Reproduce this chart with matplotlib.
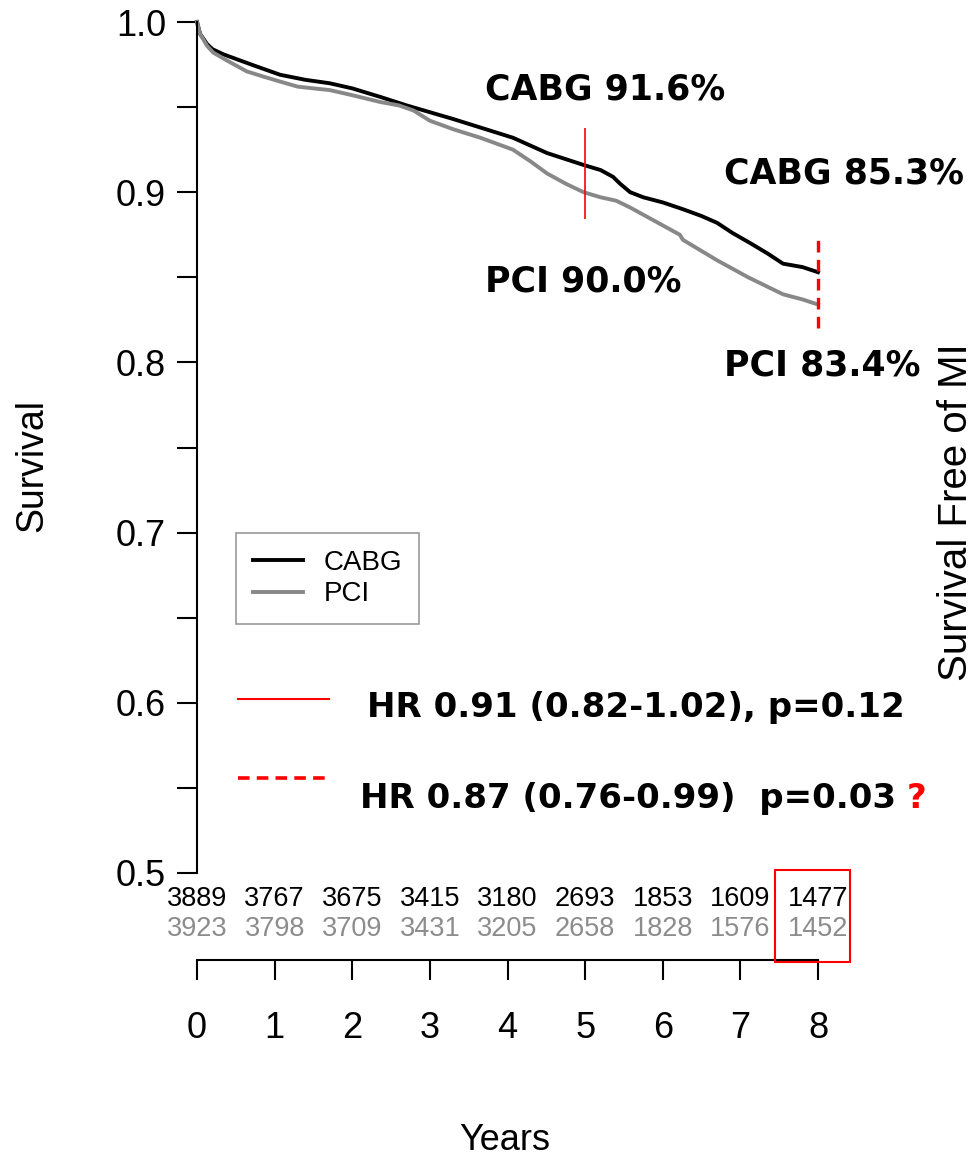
import numpy as np
import matplotlib.pyplot as plt
import matplotlib.lines as mlines
import matplotlib.patches as mpatches

plt.rcParams['font.family'] = ['Liberation Sans', 'DejaVu Sans']

# Kaplan-Meier curves
cabg_t = [0, 0.04, 0.13, 0.2, 0.34, 0.7, 1.07, 1.4, 1.71, 2.0, 2.36, 2.7, 3.0, 3.3, 3.65,
          4.07, 4.51, 4.98, 5.2, 5.36, 5.45, 5.58, 5.75, 6.0, 6.26, 6.5, 6.7, 6.9, 7.13,
          7.35, 7.55, 7.8, 8.0]
cabg_s = [1.0, 0.993, 0.987, 0.984, 0.981, 0.975, 0.969, 0.966, 0.964, 0.961, 0.956, 0.951,
          0.947, 0.943, 0.938, 0.932, 0.923, 0.916, 0.913, 0.909, 0.905, 0.900, 0.897, 0.894,
          0.890, 0.886, 0.882, 0.876, 0.870, 0.864, 0.858, 0.856, 0.853]
pci_t = [0, 0.04, 0.13, 0.21, 0.4, 0.64, 0.85, 1.07, 1.3, 1.5, 1.71, 2.0, 2.36, 2.6, 2.79,
         3.0, 3.3, 3.65, 4.07, 4.3, 4.51, 4.75, 4.98, 5.2, 5.4, 5.58, 5.9, 6.22, 6.26, 6.7,
         7.1, 7.55, 7.8, 8.0]
pci_s = [1.0, 0.993, 0.986, 0.982, 0.977, 0.971, 0.968, 0.965, 0.962, 0.961, 0.960, 0.957,
         0.953, 0.951, 0.948, 0.942, 0.937, 0.932, 0.925, 0.918, 0.911, 0.905, 0.900, 0.897,
         0.895, 0.891, 0.883, 0.875, 0.872, 0.860, 0.850, 0.840, 0.837, 0.834]

# numbers at risk
years = [0, 1, 2, 3, 4, 5, 6, 7, 8]
cabg_at_risk = [3889, 3767, 3675, 3415, 3180, 2693, 1853, 1609, 1477]
pci_at_risk = [3923, 3798, 3709, 3431, 3205, 2658, 1828, 1576, 1452]

# landmark lines
landmark_years = [5, 8]
landmark_lo = [0.884, 0.820]
landmark_hi = [0.938, 0.873]
cabg_pct = ['CABG 91.6%', 'CABG 85.3%']
pci_pct = ['PCI 90.0%', 'PCI 83.4%']
hr_labels = ['HR 0.91 (0.82-1.02), p=0.12', 'HR 0.87 (0.76-0.99)  p=0.03']

W, H = 976, 1164


def fx(px):
    return px / W


def fy(py):
    return 1 - py / H


fig = plt.figure(figsize=(W / 100, H / 100), dpi=100)

# main survival axes
ax = fig.add_axes([fx(197), fy(873), fx(818) - fx(197), fy(22) - fy(873)])
l1, = ax.plot(cabg_t, cabg_s, color='black', lw=2.8, clip_on=False, label='CABG')
l2, = ax.plot(pci_t, pci_s, color='#888888', lw=2.8, clip_on=False, label='PCI')
ax.vlines(landmark_years[0], landmark_lo[0], landmark_hi[0], color='red', lw=1.2)
ax.vlines(landmark_years[1], landmark_lo[1], landmark_hi[1], color='red', lw=2.4,
          linestyles=(0, (3.5, 2.2)), clip_on=False)
ax.set_xlim(0, 8)
ax.set_ylim(0.5, 1.0)
for s in ['top', 'right', 'bottom']:
    ax.spines[s].set_visible(False)
ax.spines['left'].set_linewidth(1.5)
yt = np.round(np.arange(0.5, 1.001, 0.05), 2)
ax.set_yticks(yt)
ax.set_yticklabels([f'{v:.1f}' if i % 2 == 0 else '' for i, v in enumerate(yt)])
ax.tick_params(axis='y', length=14.4, width=1.5, pad=8, labelsize=26)
ax.set_xticks([])

leg = ax.legend(handles=[l1, l2], loc='upper left',
                bbox_to_anchor=(fx(236), fy(533)), bbox_transform=fig.transFigure,
                fontsize=20, handlelength=1.8, handletextpad=0.75, labelspacing=0.2,
                borderpad=0.6, borderaxespad=0, fancybox=False, framealpha=1)
leg.get_frame().set_edgecolor('#999999')
leg.get_frame().set_linewidth(1.2)

# landmark percentages
bold = dict(family='DejaVu Sans', fontweight='bold', fontsize=25, color='black')
fig.text(fx(485), fy(100), cabg_pct[0], **bold)
fig.text(fx(485), fy(292), pci_pct[0], **bold)
fig.text(fx(724), fy(183), cabg_pct[1], **bold)
fig.text(fx(724), fy(375), pci_pct[1], **bold)

# hazard ratio key
fig.add_artist(mlines.Line2D([fx(238), fx(329)], [fy(699), fy(699)], color='red', lw=1.5))
fig.add_artist(mlines.Line2D([fx(238), fx(329)], [fy(778), fy(778)], color='red', lw=2.6,
                             linestyle=(0, (3.2, 2.0))))
hr = dict(family='DejaVu Sans', fontweight='bold', fontsize=24.5, color='black')
fig.text(fx(367), fy(717), hr_labels[0], **hr)
fig.text(fx(360), fy(808), hr_labels[1], **hr)
fig.text(fx(907), fy(808), '?', family='DejaVu Sans', fontweight='bold', fontsize=24.5,
         color='red')

# bottom axis with numbers at risk
ax2 = fig.add_axes([fx(197), fy(960), fx(818) - fx(197), fy(873) - fy(960)])
ax2.set_xlim(0, 8)
ax2.set_ylim(0, 1)
for s in ['top', 'right', 'left']:
    ax2.spines[s].set_visible(False)
ax2.spines['bottom'].set_linewidth(1.5)
ax2.set_yticks([])
ax2.set_xticks(years)
ax2.tick_params(axis='x', length=14.4, width=1.5, pad=22, labelsize=26)
ax2.patch.set_alpha(0)
for x, a, b in zip(years, cabg_at_risk, pci_at_risk):
    ax2.text(x, 0.70, str(a), ha='center', va='center', fontsize=19.5, color='black')
    ax2.text(x, 0.36, str(b), ha='center', va='center', fontsize=19.5, color='#8c8c8c')

fig.add_artist(mpatches.Rectangle((fx(775), fy(962)), fx(850) - fx(775), fy(870) - fy(962),
                                  fill=False, edgecolor='red', lw=1.5))

fig.text(fx(505), fy(1140), 'Years', ha='center', va='center', fontsize=26)
fig.text(fx(32), fy(465), 'Survival', ha='center', va='center', rotation=90, fontsize=27)
fig.text(fx(956), fy(512), 'Survival Free of MI', ha='center', va='center', rotation=90,
         fontsize=29)

fig.savefig('out.png', dpi=100)
